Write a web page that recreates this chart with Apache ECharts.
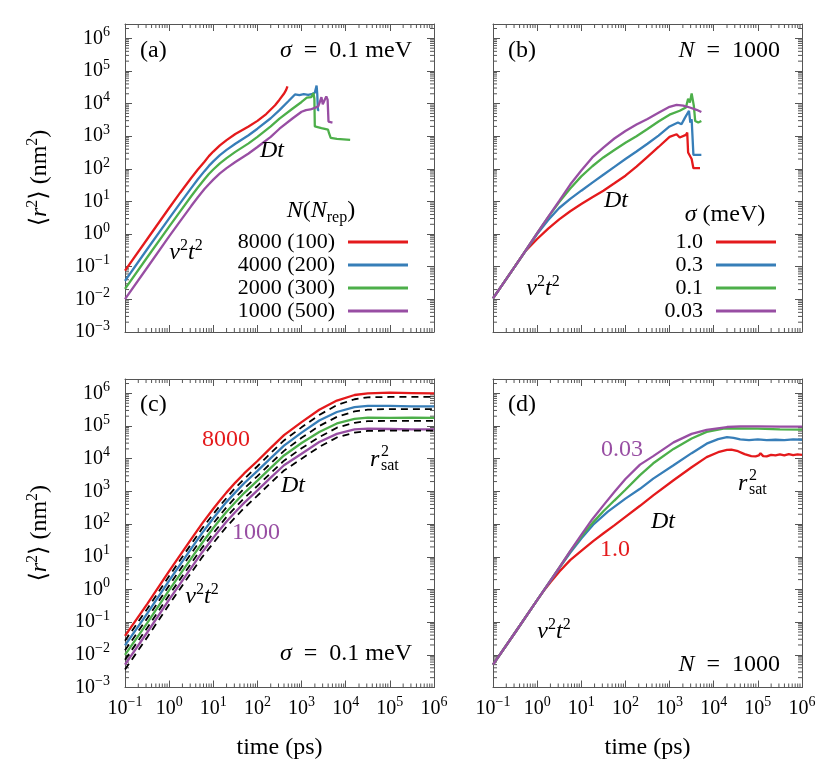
<!DOCTYPE html>
<html>
<head>
<meta charset="utf-8">
<script src="https://cdn.jsdelivr.net/npm/echarts@6/dist/echarts.min.js"></script>
<style>
html, body { margin: 0; padding: 0; background: #fff; }
#main { width: 830px; height: 765px; }
</style>
</head>
<body>
<div id="main"></div>
<script>
// ---- data (time in ps, <r^2> in nm^2) ----

// (a) sigma = 0.1 meV, N (N_rep)
const aNames = ['8000 (100)', '4000 (200)', '2000 (300)', '1000 (500)'];
const a8000 = [[0.1,0.076],[0.32,0.71],[1,6.3],[1.78,18.6],[3.16,52.5],[4.47,95.5],[6.31,166],[7.94,245],[10,339],[14.1,525],[20,759],[31.6,1175],[63,1995],[100,2951],[158,4786],[251,8913],[316,13180],[398,19950],[447,26300],[479,33880]];
const a4000 = [[0.1,0.037],[0.32,0.35],[1,3.02],[1.78,8.9],[3.16,25.7],[4.47,47.9],[6.31,85.1],[7.94,123],[10,170],[14.1,263],[20,380],[31.6,589],[63,1072],[100,1698],[200,3548],[316,6310],[501,11750],[708,19050],[891,18200],[1122,19500],[1413,18600],[1778,20000],[1995,21400],[2188,35500],[2265,20000],[2344,6300],[2512,6300]];
const a2000 = [[0.1,0.021],[0.32,0.195],[1,1.7],[1.78,5.0],[3.16,14.5],[4.47,26.9],[6.31,47.9],[7.94,69.2],[10,95.5],[14.1,148],[20,214],[31.6,331],[63,603],[100,955],[200,1995],[316,3467],[631,7079],[1000,11220],[1318,15140],[1660,15800],[1862,20900],[1950,14100],[1995,2000],[2818,1780],[3981,1585],[4169,1260],[4571,891],[6310,832],[12600,776]];
const a1000 = [[0.1,0.0102],[0.32,0.095],[1,0.85],[1.78,2.51],[3.16,7.24],[4.47,13.5],[6.31,24],[7.94,33.9],[10,46.8],[14.1,72.4],[20,105],[31.6,162],[63,295],[100,468],[200,955],[316,1698],[631,3548],[1000,5623],[1259,6310],[1585,6610],[1995,7410],[2399,8320],[2630,12000],[2818,15800],[3020,9550],[3311,12600],[3631,16600],[3890,13200],[4074,2820],[4467,2510],[5012,2630]];

// (b) N = 1000, sigma (meV)
const bNames = ['1.0', '0.3', '0.1', '0.03'];
const b10 = [[0.1,0.0107],[0.32,0.107],[0.56,0.316],[1,0.708],[1.78,1.48],[3.16,2.82],[5.62,5.01],[10,8.32],[17.8,13.5],[31.6,21.4],[56.2,36.3],[100,61.7],[178,117],[316,234],[562,468],[1000,955],[1445,1148],[1698,912],[2344,1096],[2512,1288],[2630,316],[3162,200],[3467,105],[4898,105]];
const b03 = [[0.1,0.0107],[0.32,0.107],[1,1.0],[1.78,2.69],[3.16,6.31],[5.62,12.0],[10,21.4],[17.8,38],[31.6,66.1],[56.2,115],[100,200],[178,339],[316,589],[562,1047],[1000,1995],[1549,2630],[1862,2340],[2239,3720],[2754,6030],[2951,2630],[3162,3310],[3467,269],[5248,269]];
const b01 = [[0.1,0.0107],[0.32,0.107],[1,1.07],[1.78,3.31],[3.16,9.55],[5.62,25.1],[10,58.9],[17.8,120],[31.6,224],[56.2,380],[100,631],[178,1000],[316,1660],[562,2818],[1000,4571],[1698,6030],[2344,7590],[2630,14100],[2884,10700],[3162,20400],[3548,8510],[3802,2950],[4467,2630],[5248,2950]];
const b003 = [[0.1,0.0107],[0.32,0.107],[1,1.07],[1.78,3.39],[3.16,10.5],[5.62,33.1],[10,89.1],[17.8,224],[31.6,447],[56.2,851],[100,1445],[178,2291],[316,3388],[562,5248],[1000,7943],[1445,9120],[2042,8710],[2884,7590],[4074,6457],[5248,5495]];

// (c) sigma = 0.1 meV, simulation (solid) and model (dashed)
const cTime = [0.1,0.32,1,3.16,5.62,10,14.1,20,31.6,50,100,200,400,1000,2512,6310,15850,31620,1e5,3.16e5,1e6];
const c8000 = [0.038,0.363,3.63,34.7,105,295,525,933,1862,3548,8511,21380,52480,131800,316200,602600,891300,1000000,1047000,1023000,1000000];
const c4000 = [0.0195,0.186,1.86,17.8,53.7,151,269,479,933,1778,4266,10470,25120,63100,147900,269200,380200,416900,416900,398100,398100];
const c2000 = [0.01,0.0955,0.955,8.91,26.9,75.9,135,240,468,891,2138,5248,12590,30200,66070,120200,166000,182000,177800,182000,177800];
const c1000 = [0.005,0.049,0.49,4.57,13.8,38,67.6,120,234,447,1072,2630,6310,14130,32360,57540,79430,83180,81280,79430,79430];
const c8000fit = [0.0269,0.257,2.57,24.5,74.1,204,363,631,1288,2399,5888,14790,36310,91200,218800,436500,660700,758600,776200,776200,776200];
const c4000fit = [0.0138,0.132,1.32,12.6,38,105,186,331,646,1230,2951,7244,17380,43650,100000,190500,281800,316200,331100,331100,331100];
const c2000fit = [0.00708,0.0676,0.676,6.31,19.1,52.5,93.3,166,324,617,1479,3631,8710,20890,45710,89130,125900,141300,144500,144500,144500];
const c1000fit = [0.00355,0.0347,0.347,3.24,9.77,26.3,46.8,83.2,162,309,741,1820,4365,10000,22910,44670,63100,70790,72440,72440,72440];

// (d) N = 1000, long times
const d10 = [[0.1,0.005],[0.32,0.049],[1,0.47],[1.41,0.91],[2,1.66],[3.2,3.55],[5.6,7.9],[10,15.1],[18.6,30.2],[32,52.5],[56,91],[100,166],[214,363],[427,759],[1230,2188],[3162,5495],[6918,11220],[12590,15850],[19950,18620],[25120,19050],[35480,16980],[50120,13800],[70790,12020],[89130,11750],[104700,12590],[114800,14790],[131800,12020],[158500,11750],[199500,13180],[251200,12590],[316200,13490],[398100,12590],[501200,13800],[631000,12880],[794300,13490],[1000000,13180]];
const d03 = [[0.1,0.005],[0.32,0.049],[1,0.47],[1.78,1.45],[3.2,4.6],[5.6,13.2],[10,36.3],[18.6,95.5],[40,240],[100,603],[214,1202],[427,2455],[1230,6310],[3162,14790],[6918,28840],[12590,39810],[19950,45710],[28180,43650],[39810,38900],[63100,37150],[100000,38900],[158500,37150],[251200,38020],[398100,37150],[631000,38900],[1000000,38020]];
const d01 = [[0.1,0.005],[0.32,0.049],[1,0.47],[1.78,1.48],[3.2,4.7],[5.6,14.5],[10,41.7],[17.8,107],[32,251],[56,525],[100,1122],[214,3162],[427,7244],[1230,19950],[3162,41690],[6918,66070],[16600,83180],[31620,85110],[100000,83180],[316000,79430],[1000000,77620]];
const d003 = [[0.1,0.005],[0.32,0.049],[1,0.47],[1.78,1.48],[3.2,4.7],[5.6,14.8],[10,46.8],[17.8,141],[32,380],[56,955],[100,2399],[214,6607],[427,12020],[1230,31620],[3162,57540],[6918,75860],[19950,93330],[39810,97720],[100000,97720],[316000,95500],[1000000,95500]];

const colors = ['#e41a1c', '#377eb8', '#4daf4a', '#984ea3'];
const minorSteps = [2, 3, 4, 5, 6, 7, 8, 9];
const xDecades = [0.1, 1, 10, 100, 1e3, 1e4, 1e5];
const yDecades = [1e-3, 1e-2, 1e-1, 1, 10, 100, 1e3, 1e4, 1e5, 1e6];
const X_MIN = 0.1, X_MAX = 1e6, Y_MIN = 1e-3, Y_MAX = 2.75e6;

// ---- styling helpers ----
const SERIF = "'Liberation Serif', 'DejaVu Serif', serif";
const FRAME = '#555';

function makeRich(size, color) {
  const small = Math.round(size * 0.66);
  return {
    n: {fontFamily: SERIF, fontSize: size, lineHeight: size + 6, color: color, fill: color},
    i: {fontFamily: SERIF, fontSize: size, fontStyle: 'italic', lineHeight: size + 6, color: color, fill: color},
    sup: {fontFamily: SERIF, fontSize: small, lineHeight: small + 2, verticalAlign: 'top', color: color, fill: color},
    sub: {fontFamily: SERIF, fontSize: small, lineHeight: small + 2, verticalAlign: 'bottom', color: color, fill: color}
  };
}

const tickRich = {
  b: {fontFamily: SERIF, fontSize: 20, lineHeight: 26, color: '#000'},
  s: {fontFamily: SERIF, fontSize: 14, lineHeight: 15, verticalAlign: 'top', color: '#000'}
};

function powLabel(v) {
  const e = Math.log10(v);
  const r = Math.round(e);
  if (Math.abs(e - r) > 0.01) return '';
  return '{b|10}{s|' + (r < 0 ? '\u2212' + (-r) : r) + '}';
}

function xAx(gi, pos, showLabel) {
  return {
    type: 'log', logBase: 10, gridIndex: gi, position: pos,
    min: X_MIN, max: X_MAX, splitNumber: 10,
    axisLine: {show: true, onZero: false, lineStyle: {color: FRAME, width: 1}},
    axisTick: {show: true, inside: true, length: 7, lineStyle: {color: FRAME, width: 1}},
    splitLine: {show: false},
    axisLabel: {show: showLabel, interval: 0, margin: 8, formatter: powLabel, rich: tickRich},
    name: showLabel ? 'time (ps)' : '',
    nameLocation: 'middle', nameGap: 48,
    nameTextStyle: {fontFamily: SERIF, fontSize: 24, color: '#000'}
  };
}

function yAx(gi, pos, showLabel) {
  return {
    type: 'log', logBase: 10, gridIndex: gi, position: pos,
    min: Y_MIN, max: Y_MAX, splitNumber: 10,
    axisLine: {show: true, onZero: false, lineStyle: {color: FRAME, width: 1}},
    axisTick: {show: true, inside: true, length: 7, lineStyle: {color: FRAME, width: 1}},
    splitLine: {show: false},
    axisLabel: {show: showLabel, interval: 0, margin: 15, showMaxLabel: false, formatter: powLabel, rich: tickRich},
    name: showLabel ? '{n|\u27e8}{i|r}{sup|2}{n|\u27e9 (nm}{sup|2}{n|)}' : '',
    nameLocation: 'middle', nameGap: 70, nameRotate: 90,
    nameTextStyle: {rich: makeRich(24, '#000')}
  };
}

function line(gi, name, data, color, dashed) {
  return {
    type: 'line', name: name, data: data,
    xAxisIndex: 2 * gi, yAxisIndex: 2 * gi,
    symbol: 'none', showSymbol: false, smooth: false, silent: true, clip: true,
    lineStyle: {color: color, width: dashed ? 1.8 : 2.3, type: dashed ? [7, 5] : 'solid'},
    itemStyle: {color: color},
    z: dashed ? 4 : 3
  };
}

// minor ticks (2..9 in each decade) on all four sides
const minorData = [];
xDecades.forEach(function (d) {
  minorSteps.forEach(function (k) { minorData.push([k * d, Y_MIN, 0]); });
});
yDecades.forEach(function (d) {
  minorSteps.forEach(function (k) { if (k * d < Y_MAX) minorData.push([X_MIN, k * d, 1]); });
});

function minorTicks(gi) {
  return {
    type: 'custom', xAxisIndex: 2 * gi, yAxisIndex: 2 * gi, silent: true, clip: false, z: 2,
    data: minorData,
    renderItem: function (params, api) {
      const cs = params.coordSys;
      const p = api.coord([api.value(0), api.value(1)]);
      const L = 4;
      const st = {stroke: FRAME, lineWidth: 1};
      if (api.value(2) === 0) {
        return {type: 'group', children: [
          {type: 'line', shape: {x1: p[0], y1: cs.y + cs.height, x2: p[0], y2: cs.y + cs.height - L}, style: st},
          {type: 'line', shape: {x1: p[0], y1: cs.y, x2: p[0], y2: cs.y + L}, style: st}
        ]};
      }
      return {type: 'group', children: [
        {type: 'line', shape: {x1: cs.x, y1: p[1], x2: cs.x + L, y2: p[1]}, style: st},
        {type: 'line', shape: {x1: cs.x + cs.width, y1: p[1], x2: cs.x + cs.width - L, y2: p[1]}, style: st}
      ]};
    }
  };
}

function txt(x, y, text, align, size, color) {
  color = color || '#000';
  return {
    type: 'text', x: x, y: y, silent: true, z: 10,
    style: {
      text: text, rich: makeRich(size, color), fill: color,
      font: size + 'px ' + SERIF,
      align: align, verticalAlign: 'middle',
      textAlign: align, textVerticalAlign: 'middle'
    }
  };
}

function rsat(x, y) {
  return [
    txt(x, y, '{i|r}', 'left', 24),
    txt(x + 11, y - 8, '{n|2}', 'left', 16),
    txt(x + 11, y + 6, '{n|sat}', 'left', 16)
  ];
}

const zipT = function (t, v) { return t.map(function (x, i) { return [x, v[i]]; }); };

// ---- series ----
const series = [];
[a8000, a4000, a2000, a1000].forEach(function (d, k) { series.push(line(0, aNames[k], d, colors[k])); });
[b10, b03, b01, b003].forEach(function (d, k) { series.push(line(1, bNames[k], d, colors[k])); });
[c8000, c4000, c2000, c1000].forEach(function (d, k) { series.push(line(2, 'c' + k, zipT(cTime, d), colors[k])); });
[c8000fit, c4000fit, c2000fit, c1000fit].forEach(function (d, k) { series.push(line(2, 'fit' + k, zipT(cTime, d), '#000', true)); });
[d10, d03, d01, d003].forEach(function (d, k) { series.push(line(3, 'd' + k, d, colors[k])); });
[0, 1, 2, 3].forEach(function (gi) { series.push(minorTicks(gi)); });

const legendBase = {
  orient: 'vertical', align: 'right', padding: 0, itemWidth: 60, itemHeight: 3, itemGap: 1,
  icon: 'rect', selectedMode: false,
  textStyle: {fontFamily: SERIF, fontSize: 22, lineHeight: 22, color: '#000', padding: [0, 8, 0, 0]}
};

const option = {
  animation: false,
  backgroundColor: '#fff',
  grid: [
    {left: 125, top: 24, width: 309, height: 308, outerBoundsMode: 'none'},
    {left: 493, top: 24, width: 309, height: 308, outerBoundsMode: 'none'},
    {left: 125, top: 379, width: 309, height: 308.5, outerBoundsMode: 'none'},
    {left: 493, top: 379, width: 309, height: 308.5, outerBoundsMode: 'none'}
  ],
  xAxis: [
    xAx(0, 'bottom', false), xAx(0, 'top', false),
    xAx(1, 'bottom', false), xAx(1, 'top', false),
    xAx(2, 'bottom', true), xAx(2, 'top', false),
    xAx(3, 'bottom', true), xAx(3, 'top', false)
  ],
  yAxis: [
    yAx(0, 'left', true), yAx(0, 'right', false),
    yAx(1, 'left', false), yAx(1, 'right', false),
    yAx(2, 'left', true), yAx(2, 'right', false),
    yAx(3, 'left', false), yAx(3, 'right', false)
  ],
  legend: [
    Object.assign({}, legendBase, {data: aNames, right: 422, top: 231}),
    Object.assign({}, legendBase, {data: bNames, right: 54, top: 231})
  ],
  graphic: {elements: [
    // (a)
    txt(140, 51, '{n|(a)}', 'left', 24),
    txt(412, 51, '{i|\u03c3}{n|\u2002=\u20020.1 meV}', 'right', 24),
    txt(272, 151, '{i|Dt}', 'center', 24),
    txt(186, 253, '{i|v}{sup|2}{i|t}{sup|2}', 'center', 24),
    txt(321, 211, '{i|N}{n|(}{i|N}{sub|rep}{n|)}', 'center', 24),
    // (b)
    txt(508, 51, '{n|(b)}', 'left', 24),
    txt(780, 51, '{i|N}{n|\u2002=\u20021000}', 'right', 24),
    txt(616, 201, '{i|Dt}', 'center', 24),
    txt(543, 289, '{i|v}{sup|2}{i|t}{sup|2}', 'center', 24),
    txt(725, 215, '{i|\u03c3}{n| (meV)}', 'center', 24),
    // (c)
    txt(140, 405, '{n|(c)}', 'left', 24),
    txt(226, 440, '{n|8000}', 'center', 24, colors[0]),
    txt(293, 486, '{i|Dt}', 'center', 24),
    txt(256, 533, '{n|1000}', 'center', 24, colors[3]),
    txt(202, 597, '{i|v}{sup|2}{i|t}{sup|2}', 'center', 24),
    txt(412, 654, '{i|\u03c3}{n|\u2002=\u20020.1 meV}', 'right', 24),
    // (d)
    txt(508, 405, '{n|(d)}', 'left', 24),
    txt(622, 450, '{n|0.03}', 'center', 24, colors[3]),
    txt(663, 522, '{i|Dt}', 'center', 24),
    txt(615, 550, '{n|1.0}', 'center', 24, colors[0]),
    txt(554, 632, '{i|v}{sup|2}{i|t}{sup|2}', 'center', 24),
    txt(780, 665, '{i|N}{n|\u2002=\u20021000}', 'right', 24)
  ].concat(rsat(370, 460)).concat(rsat(738, 484))},
  series: series
};

const chart = echarts.init(document.getElementById('main'));
chart.setOption(option);
</script>
</body>
</html>
